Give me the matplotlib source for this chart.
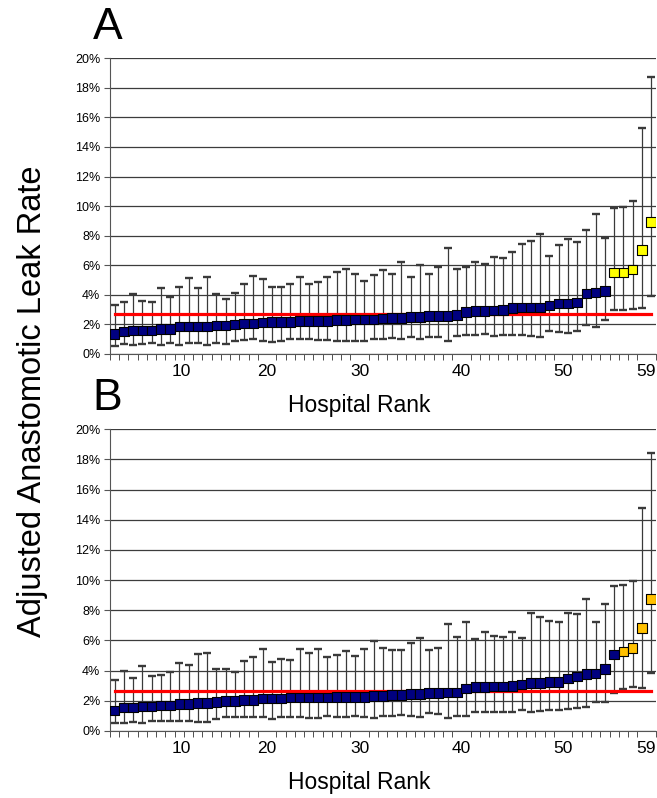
import numpy as np
import matplotlib
matplotlib.use("Agg")
import matplotlib.pyplot as plt
from matplotlib.ticker import FixedLocator, PercentFormatter

plt.rcParams['font.family'] = ['Liberation Sans', 'DejaVu Sans']

# hospital rank 1..59
rank = np.arange(1, 60)

# panel A: adjusted leak rate (%) with lower / upper limits
a_rate = [1.35, 1.51, 1.58, 1.58, 1.58, 1.67, 1.67, 1.85, 1.85, 1.85, 1.85, 1.92, 1.92, 2.00, 2.07,
          2.07, 2.12, 2.16, 2.16, 2.16, 2.23, 2.23, 2.23, 2.23, 2.30, 2.30, 2.34, 2.34, 2.34,
          2.41, 2.45, 2.45, 2.52, 2.52, 2.59, 2.59, 2.59, 2.63, 2.82, 2.91, 2.91, 2.93, 2.97, 3.09, 3.15,
          3.15, 3.15, 3.27, 3.42, 3.42, 3.47, 4.10, 4.17, 4.26, 5.50, 5.50, 5.72, 7.03, 8.94]
a_upper = [3.31, 3.51, 4.07, 3.58, 3.51, 4.44, 3.83, 4.55, 5.11, 4.44, 5.18, 4.07, 3.69, 4.14, 4.71,
           5.25, 5.07, 4.50, 4.55, 4.71, 5.18, 4.73, 4.89, 5.23, 5.54, 5.77, 5.43, 4.95, 5.32,
           5.68, 5.41, 6.19, 5.23, 6.04, 5.43, 5.86, 7.14, 5.72, 5.90, 6.19, 6.08, 6.58, 6.51, 6.91, 7.41,
           7.64, 8.11, 6.64, 7.34, 7.77, 7.59, 8.38, 9.44, 7.82, 9.84, 9.91, 10.36, 15.25, 18.74]
a_lower = [0.56, 0.68, 0.63, 0.68, 0.74, 0.63, 0.74, 0.63, 0.74, 0.74, 0.63, 0.74, 0.68, 0.88, 0.95,
           0.99, 0.88, 0.79, 0.88, 0.99, 0.99, 0.99, 0.95, 0.95, 0.90, 0.90, 0.90, 0.86, 0.99,
           0.99, 1.10, 0.99, 1.17, 1.04, 1.17, 1.17, 0.90, 1.24, 1.28, 1.28, 1.35, 1.24, 1.28, 1.28, 1.28,
           1.24, 1.17, 1.55, 1.46, 1.40, 1.55, 1.96, 1.80, 2.30, 2.97, 2.97, 3.04, 3.10, 3.94]
a_mean = 2.68
a_outliers = 5   # last hospitals flagged

# panel B
b_rate = [1.35, 1.55, 1.55, 1.61, 1.61, 1.68, 1.68, 1.77, 1.77, 1.84, 1.84, 1.90, 1.97, 1.97, 2.06,
          2.06, 2.14, 2.14, 2.14, 2.21, 2.21, 2.21, 2.21, 2.21, 2.26, 2.26, 2.26, 2.26, 2.30,
          2.32, 2.39, 2.39, 2.43, 2.43, 2.50, 2.50, 2.56, 2.56, 2.81, 2.90, 2.90, 2.94, 2.94, 2.99, 3.07,
          3.20, 3.20, 3.25, 3.25, 3.47, 3.60, 3.76, 3.80, 4.11, 5.06, 5.26, 5.48, 6.81, 8.76]
b_upper = [3.38, 3.98, 3.54, 4.31, 3.67, 3.71, 3.89, 4.49, 4.38, 5.09, 5.17, 4.13, 4.13, 3.89, 4.64,
           4.91, 5.42, 4.58, 4.75, 4.71, 5.42, 5.20, 5.42, 4.91, 5.04, 5.33, 5.00, 5.42, 5.97,
           5.48, 5.37, 5.37, 5.82, 6.15, 5.37, 5.48, 7.08, 6.21, 7.25, 6.10, 6.59, 6.32, 6.21, 6.59, 6.15,
           7.81, 7.54, 7.30, 7.19, 7.85, 7.76, 8.73, 7.19, 8.40, 9.64, 9.69, 9.97, 14.77, 18.42]
b_lower = [0.51, 0.55, 0.62, 0.55, 0.69, 0.69, 0.69, 0.69, 0.69, 0.62, 0.62, 0.80, 0.95, 0.95, 0.95,
           0.95, 0.95, 0.80, 0.95, 0.95, 0.95, 0.86, 0.86, 1.02, 0.95, 0.95, 1.02, 0.95, 0.86,
           1.02, 1.02, 1.06, 1.02, 0.95, 1.17, 1.13, 0.86, 1.02, 1.02, 1.28, 1.24, 1.28, 1.28, 1.28, 1.39,
           1.24, 1.33, 1.39, 1.42, 1.46, 1.50, 1.61, 1.90, 1.90, 2.50, 2.76, 2.90, 2.87, 3.85]
b_mean = 2.65
b_outliers = 4

tick_labels = ['10', '20', '30', '40', '50', '59']
tick_pos = [8.2, 17.5, 27.5, 38.5, 49.5, 58.5]   # where the labels sit under the axis


def draw_panel(ax, rate, lower, upper, mean, n_out, hi_color, letter):
    rate = np.array(rate)
    lo = rate - np.array(lower)
    hi = np.array(upper) - rate
    ax.errorbar(rank, rate, yerr=[lo, hi], fmt='none', ecolor='#3a3a3a', elinewidth=0.9,
                capsize=2.6, capthick=1.7, zorder=2)
    ax.plot([1, 59], [mean, mean], color='#ff0000', lw=2.3, zorder=3)
    cols = ['#000080'] * (59 - n_out) + [hi_color] * n_out
    ax.scatter(rank, rate, marker='s', s=48, c=cols, edgecolors='black', linewidths=0.8, zorder=4)

    ax.set_xlim(0.5, 59.5)
    ax.set_ylim(0, 20)
    ax.set_yticks(np.arange(0, 21, 2))
    ax.yaxis.set_major_formatter(PercentFormatter(decimals=0))
    ax.grid(axis='y', color='#3c3c3c', lw=0.9)
    ax.set_axisbelow(True)
    for s in ['top', 'right']:
        ax.spines[s].set_visible(False)
    ax.spines['left'].set_color('#555555')
    ax.spines['bottom'].set_color('#555555')
    ax.tick_params(axis='y', direction='out', length=4, color='#555555', labelsize=9, pad=3)

    ax.set_xticks(tick_pos)
    ax.set_xticklabels(tick_labels, fontsize=12.5)
    ax.tick_params(axis='x', which='major', length=0, pad=7)
    ax.xaxis.set_minor_locator(FixedLocator(np.arange(0.5, 60, 1)))
    ax.tick_params(axis='x', which='minor', direction='out', length=4, color='#333333')
    ax.set_xlabel('Hospital Rank', fontsize=16.5, labelpad=11, x=0.456)
    ax.text(-0.005, 1.035, letter, transform=ax.transAxes, fontsize=32, ha='center', va='bottom')


fig = plt.figure(figsize=(6.57, 7.98), dpi=100)
ax_a = fig.add_axes([0.1674, 0.5564, 0.8307, 0.3706])
ax_b = fig.add_axes([0.1674, 0.0840, 0.8307, 0.3781])

draw_panel(ax_a, a_rate, a_lower, a_upper, a_mean, a_outliers, '#ffff00', 'A')
draw_panel(ax_b, b_rate, b_lower, b_upper, b_mean, b_outliers, '#ffc000', 'B')

fig.text(0.049, 0.497, 'Adjusted Anastomotic Leak Rate', rotation=90, fontsize=23.5,
         ha='center', va='center')

fig.savefig('out.png', dpi=100)
